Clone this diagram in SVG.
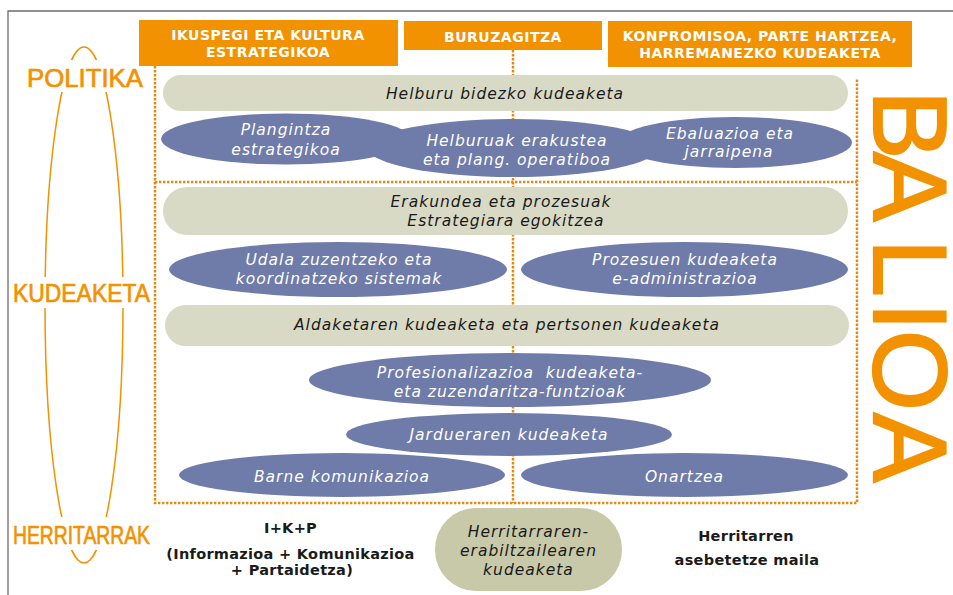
<svg xmlns="http://www.w3.org/2000/svg" width="953" height="595" viewBox="0 0 953 595">
<style>
.hdr{fill:#f39200}
.hdrt{font-family:"DejaVu Sans",Verdana,sans-serif;font-weight:bold;font-size:14px;letter-spacing:0.5px;fill:#fff;text-anchor:middle}
.pill{fill:#d9dac5}
.ell{fill:#6f7ba8}
.it{font-family:"DejaVu Sans",Verdana,sans-serif;font-style:italic;font-size:15.5px;letter-spacing:1px;text-anchor:middle}
.wt{fill:#fff}
.bt{fill:#1a1a1a}
.bold{font-family:"DejaVu Sans",Verdana,sans-serif;font-weight:bold;font-size:14.5px;letter-spacing:0.3px;fill:#1a1a1a;text-anchor:middle}
.lvl{font-family:"Liberation Sans",Arial,sans-serif;font-size:25.5px;fill:#f39200;stroke:#f39200;stroke-width:0.7;text-anchor:middle}
.dot{fill:none;stroke:#e38a14;stroke-width:2.5;stroke-dasharray:2.4 1.6}
</style>
<rect width="953" height="595" fill="#fff"/>
<path d="M8 595 V11 H953" fill="none" stroke="#6b6b6b" stroke-width="1.3"/>

<g id="levels">
<ellipse cx="84" cy="305" rx="39" ry="258" fill="none" stroke="#f39200" stroke-width="1.5"/>
<rect x="20" y="60" width="132" height="32" fill="#fff"/>
<rect x="12" y="277" width="141" height="31" fill="#fff"/>
<rect x="12" y="517" width="141" height="33" fill="#fff"/>
<text class="lvl" x="85" y="87" textLength="116" lengthAdjust="spacingAndGlyphs">POLITIKA</text>
<text class="lvl" x="81.5" y="302" textLength="137" lengthAdjust="spacingAndGlyphs">KUDEAKETA</text>
<text class="lvl" x="81.5" y="544" textLength="137" lengthAdjust="spacingAndGlyphs">HERRITARRAK</text>
</g>

<g id="connectors">
<path class="dot" d="M155 66 V503 H857 V79"/>
<path class="dot" d="M155 182 H857"/>
<path class="dot" d="M513 50 V503"/>
</g>

<g id="h1"><rect class="hdr" x="139" y="20" width="259" height="46"/>
<text class="hdrt" x="268" y="40">IKUSPEGI ETA KULTURA</text>
<text class="hdrt" x="268" y="57">ESTRATEGIKOA</text></g>
<g id="h2"><rect class="hdr" x="404" y="21" width="198" height="29"/>
<text class="hdrt" x="503" y="42">BURUZAGITZA</text></g>
<g id="h3"><rect class="hdr" x="608" y="21" width="304" height="46"/>
<text class="hdrt" x="760" y="41">KONPROMISOA, PARTE HARTZEA,</text>
<text class="hdrt" x="760" y="57.5">HARREMANEZKO KUDEAKETA</text></g>

<g id="p1"><rect class="pill" x="163" y="75" width="685" height="36" rx="18"/>
<text class="it bt" x="505" y="99">Helburu bidezko kudeaketa</text></g>

<g id="e1"><ellipse class="ell" cx="286" cy="139" rx="125" ry="25.5"/></g>
<g id="e3"><ellipse class="ell" cx="735" cy="142.5" rx="117" ry="25.5"/></g>
<g id="e2"><ellipse class="ell" cx="513" cy="148" rx="145" ry="29"/></g>
<text class="it wt" x="286" y="135">Plangintza</text>
<text class="it wt" x="286" y="155">estrategikoa</text>
<text class="it wt" x="517" y="146">Helburuak erakustea</text>
<text class="it wt" x="517" y="165">eta plang. operatiboa</text>
<text class="it wt" x="730" y="139">Ebaluazioa eta</text>
<text class="it wt" x="729" y="157">jarraipena</text>

<g id="p2"><rect class="pill" x="163" y="187" width="685" height="48" rx="24"/>
<text class="it bt" x="501" y="207">Erakundea eta prozesuak</text>
<text class="it bt" x="506" y="226">Estrategiara egokitzea</text></g>

<g id="e4"><ellipse class="ell" cx="338" cy="269.5" rx="169" ry="27.5"/>
<text class="it wt" x="339" y="265">Udala zuzentzeko eta</text>
<text class="it wt" x="339" y="284">koordinatzeko sistemak</text></g>
<g id="e5"><ellipse class="ell" cx="684.5" cy="269.5" rx="163.5" ry="27.5"/>
<text class="it wt" x="685" y="265">Prozesuen kudeaketa</text>
<text class="it wt" x="685" y="284">e-administrazioa</text></g>

<g id="p3"><rect class="pill" x="165" y="305" width="684" height="41" rx="20.5"/>
<text class="it bt" x="507" y="330">Aldaketaren kudeaketa eta pertsonen kudeaketa</text></g>

<g id="e6"><ellipse class="ell" cx="510" cy="380" rx="201" ry="27"/>
<text class="it wt" x="510" y="378" xml:space="preserve">Profesionalizazioa  kudeaketa-</text>
<text class="it wt" x="510" y="397">eta zuzendaritza-funtzioak</text></g>
<g id="e7"><ellipse class="ell" cx="509" cy="434.5" rx="163" ry="21.5"/>
<text class="it wt" x="509" y="440">Jardueraren kudeaketa</text></g>
<g id="e8"><ellipse class="ell" cx="342" cy="475" rx="163" ry="22"/>
<text class="it wt" x="342" y="482">Barne komunikazioa</text></g>
<g id="e9"><ellipse class="ell" cx="684.5" cy="475" rx="163.5" ry="22"/>
<text class="it wt" x="684.5" y="482">Onartzea</text></g>

<g id="ikp">
<text class="bold" x="290.5" y="533">I+K+P</text>
<text class="bold" x="290.5" y="559">(Informazioa + Komunikazioa</text>
<text class="bold" x="292" y="575">+ Partaidetza)</text>
</g>
<g id="herritar"><rect x="435" y="508" width="187" height="83" rx="41" fill="#c8c9a9"/>
<text class="it bt" x="528.5" y="537">Herritarraren-</text>
<text class="it bt" x="528.5" y="556">erabiltzailearen</text>
<text class="it bt" x="528.5" y="575">kudeaketa</text></g>
<g id="asebetetze">
<text class="bold" x="746" y="541">Herritarren</text>
<text class="bold" x="747" y="565">asebetetze maila</text>
</g>

<g id="balioa">
<text transform="translate(874,90) rotate(90)" font-family="'Liberation Sans',Arial,sans-serif" font-size="104" fill="#f39200" stroke="#f39200" stroke-width="2.2" x="0 62 149 212 240 323" y="0">BALIOA</text>
</g>
</svg>
